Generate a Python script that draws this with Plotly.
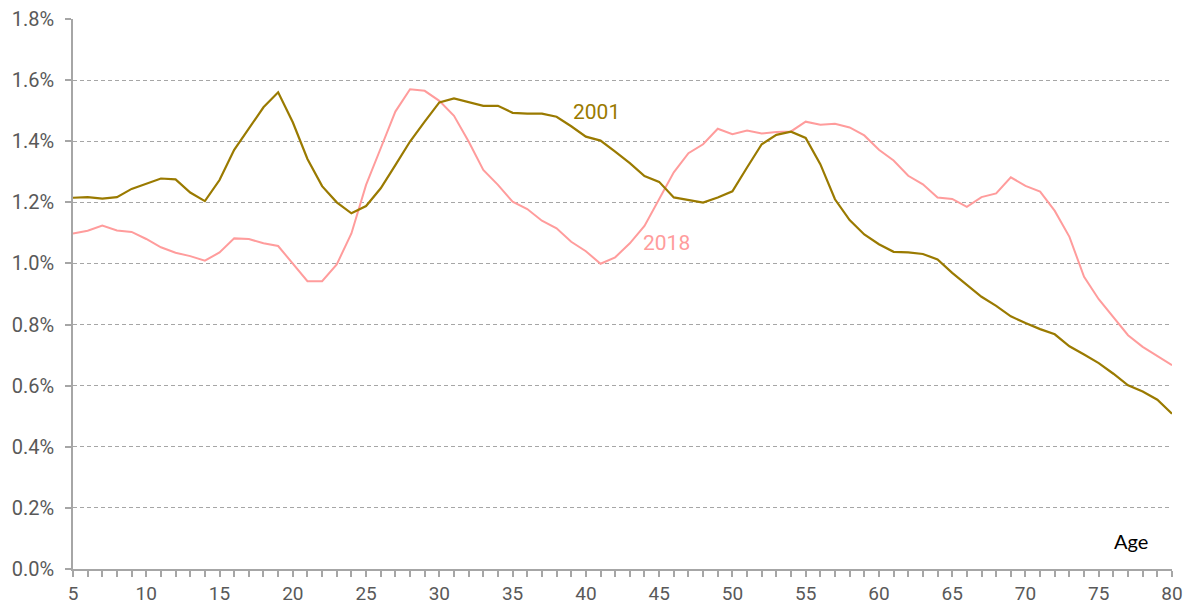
import plotly.graph_objects as go

ages = list(range(5, 81))

share_2001 = [
    1.215, 1.217, 1.212, 1.217, 1.244, 1.262, 1.278, 1.275, 1.232, 1.204,
    1.273, 1.372, 1.443, 1.511, 1.560, 1.462, 1.342, 1.253, 1.200, 1.164,
    1.188, 1.246, 1.322, 1.399, 1.464, 1.527, 1.540, 1.528, 1.516, 1.516,
    1.493, 1.490, 1.490, 1.480, 1.449, 1.415, 1.402, 1.366, 1.328, 1.286,
    1.267, 1.216, 1.208, 1.199, 1.216, 1.236, 1.314, 1.390, 1.421, 1.431,
    1.411, 1.325, 1.210, 1.142, 1.095, 1.063, 1.038, 1.036, 1.031, 1.013,
    0.969, 0.929, 0.891, 0.861, 0.827, 0.805, 0.785, 0.768, 0.729, 0.702,
    0.674, 0.639, 0.601, 0.581, 0.554, 0.508,
]

share_2018 = [
    1.098, 1.107, 1.124, 1.108, 1.103, 1.080, 1.053, 1.035, 1.024, 1.009,
    1.036, 1.082, 1.080, 1.066, 1.057, 1.000, 0.942, 0.942, 0.997, 1.098,
    1.257, 1.377, 1.497, 1.570, 1.565, 1.532, 1.483, 1.399, 1.306, 1.257,
    1.202, 1.178, 1.140, 1.115, 1.071, 1.040, 0.999, 1.020, 1.066, 1.123,
    1.211, 1.298, 1.361, 1.390, 1.441, 1.423, 1.435, 1.425, 1.430, 1.432,
    1.464, 1.454, 1.457, 1.445, 1.419, 1.372, 1.337, 1.287, 1.259, 1.216,
    1.211, 1.185, 1.217, 1.229, 1.282, 1.254, 1.235, 1.172, 1.087, 0.956,
    0.883, 0.823, 0.765, 0.727, 0.696, 0.667,
]

y_ticks = [0.0, 0.2, 0.4, 0.6, 0.8, 1.0, 1.2, 1.4, 1.6, 1.8]
x_ticks = list(range(5, 81, 5))

OLIVE = "#9A7A00"
PINK = "#FF9C9C"
AXIS = "#A6A6A6"
TXT = "#595959"

fig = go.Figure()
fig.add_trace(go.Scatter(x=ages, y=share_2018, mode="lines", name="2018",
                         line=dict(color=PINK, width=2), showlegend=False))
fig.add_trace(go.Scatter(x=ages, y=share_2001, mode="lines", name="2001",
                         line=dict(color=OLIVE, width=2.2), showlegend=False))

fig.add_annotation(x=40.7, y=1.497, text="2001", showarrow=False,
                   font=dict(family="Roboto", size=21, color=OLIVE))
fig.add_annotation(x=45.5, y=1.067, text="2018", showarrow=False,
                   font=dict(family="Roboto", size=21, color=PINK))
fig.add_annotation(x=77.2, y=0.092, text="Age", showarrow=False,
                   font=dict(family="Lato", size=20, color="black"))

fig.update_layout(
    width=1193, height=607, autosize=False,
    margin=dict(l=73, r=21, t=19, b=38, pad=0, autoexpand=False),
    paper_bgcolor="white", plot_bgcolor="white",
    font=dict(family="Roboto", size=20, color=TXT),
)
fig.update_xaxes(
    range=[5, 80], tickvals=x_ticks, ticktext=[str(v) for v in x_ticks],
    showgrid=False, zeroline=False, automargin=False,
    showline=True, linecolor=AXIS, linewidth=1.5,
    ticks="outside", ticklen=6, tickcolor=AXIS, tickwidth=1.5,
    minor=dict(dtick=1, tick0=5, ticks="outside", ticklen=6, tickcolor=AXIS, tickwidth=1.5, showgrid=False),
    tickfont=dict(family="Roboto", size=19, color=TXT),
)
fig.update_yaxes(
    range=[0, 1.8], tickvals=y_ticks, ticktext=[f"{v:.1f}%" for v in y_ticks],
    showgrid=True, gridcolor=AXIS, griddash="4px,3px", gridwidth=1,
    zeroline=False, automargin=False,
    showline=True, linecolor=AXIS, linewidth=1.5,
    ticks="outside", ticklen=6, tickcolor=AXIS, tickwidth=1.5,
    ticklabelstandoff=7,
    tickfont=dict(family="Roboto", size=20, color=TXT),
)

fig.write_html(
    "out.html",
    config={"displayModeBar": False},
    post_script="document.body.style.margin='0';document.body.style.overflow='hidden';",
)
